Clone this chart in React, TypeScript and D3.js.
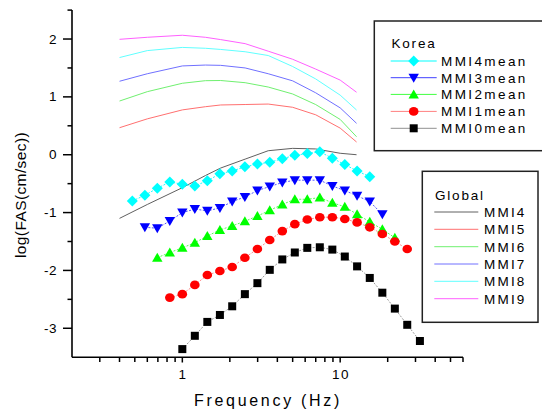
import React from "react";
import * as d3 from "d3";

const koreaFreq = [0.482, 0.579, 0.694, 0.833, 1.0, 1.2, 1.44, 1.73, 2.07, 2.49, 2.99, 3.58, 4.3, 5.16, 6.19, 7.43, 8.92, 10.7, 12.8, 15.4, 18.5, 22.2, 26.6, 32.0];
const mmi4mean = [-0.80, -0.70, -0.58, -0.47, -0.51, -0.54, -0.45, -0.33, -0.28, -0.21, -0.16, -0.13, -0.07, -0.01, 0.02, 0.05, -0.06, -0.17, -0.28, -0.38, null, null, null, null];
const mmi3mean = [null, -1.255, -1.27, -1.146, -1.0, -0.94, -0.97, -0.92, -0.81, -0.73, -0.62, -0.55, -0.48, -0.44, -0.44, -0.44, -0.54, -0.62, -0.71, -0.81, -1.03, null, null, null];
const mmi2mean = [null, null, -1.78, -1.69, -1.61, -1.52, -1.405, -1.30, -1.23, -1.15, -1.06, -0.96, -0.86, -0.77, -0.77, -0.74, -0.83, -0.90, -1.03, -1.16, -1.29, -1.435, null, null];
const mmi1mean = [null, null, null, -2.47, -2.41, -2.25, -2.08, -2.01, -1.94, -1.78, -1.63, -1.475, -1.32, -1.20, -1.12, -1.08, -1.08, -1.11, -1.17, -1.255, -1.37, -1.50, -1.63, null];
const mmi0mean = [null, null, null, null, -3.36, -3.13, -2.89, -2.77, -2.62, -2.41, -2.22, -1.99, -1.81, -1.69, -1.61, -1.60, -1.64, -1.76, -1.93, -2.13, -2.385, -2.66, -2.94, -3.22];

const globalFreq = [0.4, 0.6, 1, 1.4, 1.75, 2.5, 3.5, 5, 7, 10, 12.7];
const gMMI4 = [-1.10, -0.86, -0.57, -0.36, -0.23, -0.076, 0.069, 0.11, 0.10, 0.025, 0.0];
const gMMI5 = [0.467, 0.62, 0.775, 0.83, 0.86, 0.868, 0.876, 0.82, 0.69, 0.46, 0.22];
const gMMI6 = [0.928, 1.09, 1.235, 1.28, 1.283, 1.245, 1.17, 1.05, 0.867, 0.61, 0.311];
const gMMI7 = [1.27, 1.40, 1.535, 1.55, 1.545, 1.50, 1.40, 1.277, 1.07, 0.81, 0.543];
const gMMI8 = [1.68, 1.80, 1.855, 1.84, 1.82, 1.78, 1.715, 1.525, 1.31, 1.03, 0.773];
const gMMI9 = [1.995, 2.03, 2.065, 2.03, 1.99, 1.92, 1.79, 1.65, 1.48, 1.29, 1.08];

const koreaSeries = [
  { name: "MMI4mean", values: mmi4mean, color: "#00FFFF", line: "#00FFFF", shape: "diamond" },
  { name: "MMI3mean", values: mmi3mean, color: "#0000FF", line: "#4040FF", shape: "tridown" },
  { name: "MMI2mean", values: mmi2mean, color: "#00FF00", line: "#40FF40", shape: "triup" },
  { name: "MMI1mean", values: mmi1mean, color: "#FF0000", line: "#FF8080", shape: "circle" },
  { name: "MMI0mean", values: mmi0mean, color: "#000000", line: "#909090", shape: "square" },
];

const globalSeries = [
  { name: "MMI4", values: gMMI4, color: "#606060" },
  { name: "MMI5", values: gMMI5, color: "#FF7070" },
  { name: "MMI6", values: gMMI6, color: "#70F070" },
  { name: "MMI7", values: gMMI7, color: "#7070FF" },
  { name: "MMI8", values: gMMI8, color: "#60FFFF" },
  { name: "MMI9", values: gMMI9, color: "#FF60FF" },
];

const yMajor = [-3, -2, -1, 0, 1, 2];
const yMinor = [-2.5, -1.5, -0.5, 0.5, 1.5, 2.5];
const xMajor = [1, 10];
const xMinor = [0.3, 0.4, 0.5, 0.6, 0.7, 0.8, 0.9, 2, 3, 4, 5, 6, 7, 8, 9, 20, 30, 40, 50, 60];

function marker(shape: string, cx: number, cy: number, color: string, key: any) {
  if (shape === "diamond") {
    const s = 5.5;
    return <path key={key} d={`M${cx},${cy - s}L${cx + s},${cy}L${cx},${cy + s}L${cx - s},${cy}Z`} fill={color} />;
  }
  if (shape === "tridown") {
    return <path key={key} d={`M${cx - 5.2},${cy - 4}L${cx + 5.2},${cy - 4}L${cx},${cy + 5}Z`} fill={color} />;
  }
  if (shape === "triup") {
    return <path key={key} d={`M${cx - 5.2},${cy + 4}L${cx + 5.2},${cy + 4}L${cx},${cy - 5}Z`} fill={color} />;
  }
  if (shape === "circle") {
    return <ellipse key={key} cx={cx} cy={cy} rx={4.8} ry={4.3} fill={color} />;
  }
  return <rect key={key} x={cx - 4} y={cy - 4} width={8} height={8} fill={color} />;
}

export default function App() {
  const x = d3.scaleLog().domain([0.2, 60]).range([72, 463]);
  const y = d3.scaleLinear().domain([-3.5, 2.5]).range([357.2, 10.1]);
  const font = "Liberation Sans, Arial, sans-serif";

  const kLine = d3
    .line<number | null>()
    .defined((d) => d !== null)
    .x((_, i) => x(koreaFreq[i]))
    .y((d) => y(d as number));
  const gLine = d3
    .line<number>()
    .x((_, i) => x(globalFreq[i]))
    .y((d) => y(d));

  const kx0 = 390.7, kx1 = 436.7, kRows = [61, 77.7, 94.4, 111.4, 128.3];
  const gx0 = 434.3, gx1 = 478.3, gRows = [212, 229.3, 246.7, 264, 281.3, 298.7];

  return (
    <svg width={542} height={411} style={{ position: "absolute", left: 0, top: 0, background: "#fff" }} fontFamily={font}>
      <rect x={0} y={0} width={542} height={411} fill="#fff" />
      {globalSeries.map((s) => (
        <path key={s.name} d={gLine(s.values) || ""} fill="none" stroke={s.color} strokeWidth={1} />
      ))}
      {koreaSeries.map((s) => (
        <path key={s.name + "l"} d={kLine(s.values) || ""} fill="none" stroke={s.line} strokeWidth={0.9} strokeDasharray="2,1.5" />
      ))}
      {koreaSeries.map((s) =>
        s.values.map((v, i) => (v === null ? null : marker(s.shape, x(koreaFreq[i]), y(v), s.color, s.name + i)))
      )}

      {/* axes */}
      <line x1={72} x2={72} y1={10} y2={357.2} stroke="#000" strokeWidth={1.6} />
      <line x1={72} x2={463} y1={357.2} y2={357.2} stroke="#000" strokeWidth={1.6} />
      {yMajor.map((v) => (
        <g key={"ym" + v}>
          <line x1={63} x2={72} y1={y(v)} y2={y(v)} stroke="#000" strokeWidth={1.5} />
          <text x={57} y={y(v) + 4.6} textAnchor="end" fontSize={13.5} fill="#000" letterSpacing={0.5}>
            {v}
          </text>
        </g>
      ))}
      {yMinor.map((v) => (
        <line key={"yn" + v} x1={67.5} x2={72} y1={y(v)} y2={y(v)} stroke="#000" strokeWidth={1.5} />
      ))}
      {xMajor.map((v) => (
        <g key={"xm" + v}>
          <line x1={x(v)} x2={x(v)} y1={357.2} y2={362.5} stroke="#000" strokeWidth={1.5} />
          <text x={x(v) + 0.8} y={378.5} textAnchor="middle" fontSize={13.5} fill="#000" letterSpacing={1.5}>
            {v}
          </text>
        </g>
      ))}
      {xMinor.map((v) => (
        <line key={"xn" + v} x1={x(v)} x2={x(v)} y1={357.2} y2={362} stroke="#000" strokeWidth={1.5} />
      ))}
      <text x={268} y={406} textAnchor="middle" fontSize={16} letterSpacing={2.7} fill="#000">
        Frequency (Hz)
      </text>
      <text transform="translate(26,195) rotate(-90)" textAnchor="middle" fontSize={15.5} letterSpacing={0.4} fill="#000">
        log(FAS(cm/sec))
      </text>

      {/* Korea legend */}
      <rect x={374.3} y={21} width={180} height={129.7} fill="#fff" stroke="#222" strokeWidth={1.5} />
      <text x={391.5} y={48} fontSize={13.5} letterSpacing={1.8} fill="#000">Korea</text>
      {koreaSeries.map((s, i) => (
        <g key={"kl" + s.name}>
          <line x1={kx0} x2={kx1} y1={kRows[i]} y2={kRows[i]} stroke={s.line} strokeWidth={1} />
          {marker(s.shape, (kx0 + kx1) / 2, kRows[i], s.color, "km" + i)}
          <text x={441} y={kRows[i] + 4.8} fontSize={13.5} letterSpacing={2.4} fill="#000">
            {s.name}
          </text>
        </g>
      ))}

      {/* Global legend */}
      <rect x={422.3} y={171.3} width={115.7} height={151} fill="#fff" stroke="#222" strokeWidth={1.5} />
      <text x={435} y={200} fontSize={13.5} letterSpacing={1.8} fill="#000">Global</text>
      {globalSeries.map((s, i) => (
        <g key={"gl" + s.name}>
          <line x1={gx0} x2={gx1} y1={gRows[i]} y2={gRows[i]} stroke={s.color} strokeWidth={1} />
          <text x={484} y={gRows[i] + 4.8} fontSize={13.5} letterSpacing={2.2} fill="#000">
            {s.name}
          </text>
        </g>
      ))}
    </svg>
  );
}
